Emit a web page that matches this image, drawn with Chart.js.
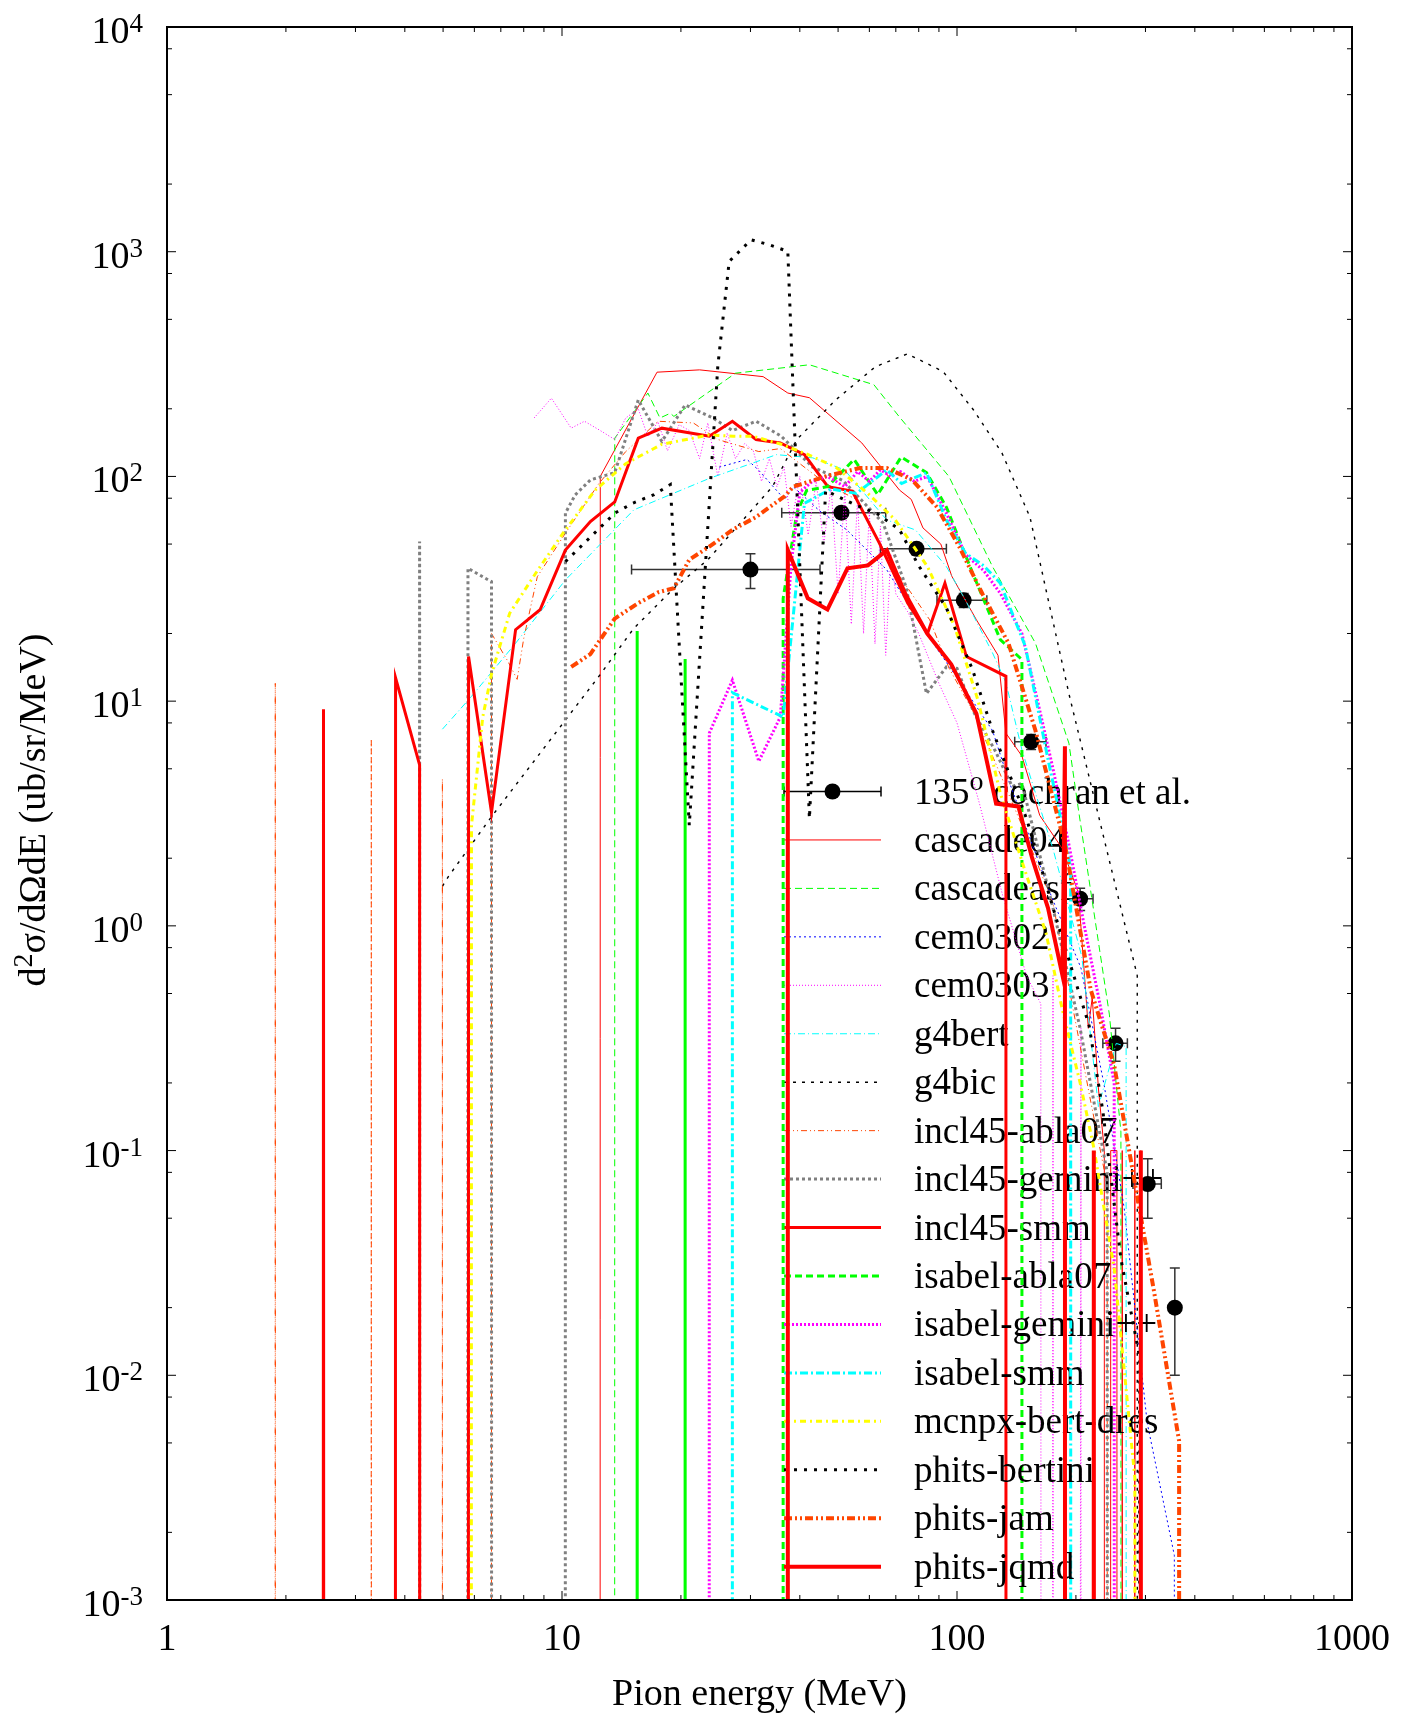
<!DOCTYPE html>
<html>
<head>
<meta charset="utf-8">
<title>Pion energy spectrum at 135 degrees</title>
<script src="https://cdn.jsdelivr.net/npm/chart.js@4.4.1/dist/chart.umd.min.js"></script>
<style>
  html, body { margin: 0; padding: 0; background: #fff; }
  #chart { display: block; }
</style>
</head>
<body>
<canvas id="chart" width="1414" height="1715"></canvas>
<script>
// Measured points, 135 deg (cochran et al.)
const expEnergy = [30, 51, 79, 104, 154, 205, 252, 304, 356];
const expValue = [38.5, 69, 47.6, 28.1, 6.6, 1.32, 0.30, 0.071, 0.020];
const expEnergyErr = [15, 15, 15, 15, 14, 16, 18, 25, 0];
const expValueErr = [6.8, 4, 3, 2, 0.5, 0.15, 0.05, 0.021, 0.01];

// Model curves: energy (MeV) and d2sigma/dOmega dE. A 0 is an empty bin,
// which on the log axis falls straight down to the bottom.
const cascade04E = [12.3, 12.5, 17.4, 22.3, 32.3, 37.3, 42.3, 57.4, 71.5, 76.6, 82, 91, 97, 112, 127, 133, 146, 162, 185, 203, 215, 220, 228, 236, 240, 245, 254, 258, 262, 266, 282, 287, 292, 296];
const cascade04V = [0, 100, 291, 298, 278, 235, 224, 141, 87, 79, 59, 50, 36, 23, 16, 7.2, 5.7, 3.1, 2.2, 1.4, 0.35, 0.48, 0.19, 0.1, 0, 0.1, 0.1, 0, 0.1, 0, 0.1, 0, 0.1, 0];

const cascadeasfE = [13.5, 13.6, 16.5, 17.7, 18.8, 19.2, 27.5, 42.3, 61.6, 71.3, 95.4, 123, 158, 192, 203, 243, 260, 262];
const cascadeasfV = [0, 148, 235, 182, 191, 185, 288, 314, 256, 185, 100, 39.7, 18.1, 6.5, 3.28, 0.405, 0.121, 0];

const cem0302E = [25, 29.4, 31.4, 36.6, 38.5, 45, 52.5, 66.4, 83.7, 101, 123, 135, 173.6, 206, 236, 265, 303, 355, 360];
const cem0302V = [110, 119, 107, 79, 90, 70, 58, 38.4, 20, 12.4, 7.4, 4.46, 1.345, 0.649, 0.194, 0.0555, 0.00615, 0.00158, 0];

const cem0303E = [8.5, 9.4, 10.55, 11.4, 12.5, 13.6, 14.5, 15.6, 16.5, 17.5, 18.5, 19.8, 21, 22.3, 23.4, 24.8, 26.2, 27.5, 29, 30.5, 32, 33.5, 35, 36.5, 38, 40, 42, 44, 46, 48, 50, 52, 54, 56, 58, 60, 62, 64, 66, 68, 70, 75, 80, 90, 100, 114, 130, 150, 163, 168, 175, 180, 206, 210];
const cem0303V = [182, 223, 164, 176, 160, 146, 182, 200, 150, 175, 130, 170, 160, 120, 173, 100, 156, 120, 140, 130, 95, 120, 90, 110, 60, 100, 55, 95, 50, 90, 30, 85, 22, 80, 20, 70, 18, 60, 16, 45, 30, 25, 20, 12, 8, 3.5, 1.4, 0.6, 0.45, 0, 0.6, 0, 0.35, 0];

const g4bertE = [4.98, 5.9, 7.63, 10.2, 15.2, 23.6, 34.9, 43.1, 51.9, 66.4, 78.5, 94, 105, 123, 133, 146, 175, 207, 228, 253, 268, 270];
const g4bertV = [7.5, 10.5, 18.1, 34.6, 71, 98, 125, 121, 107, 64, 57.8, 39.7, 28.2, 16.4, 12.1, 6.07, 2.2, 0.73, 0.157, 0.3, 0.29, 0];

const g4bicE = [4.98, 5.16, 6.63, 12.4, 15.2, 19.2, 23.4, 34.1, 39.3, 49.3, 62.2, 74.9, 92.2, 110, 130, 153, 192, 228, 286, 287];
const g4bicV = [1.5, 1.66, 3.06, 12.9, 21.1, 31.8, 42.6, 90, 146, 219, 308, 351, 293, 198, 127, 66, 10.8, 3.1, 0.6, 0];

const inclAblaE = [1.85, 1.88, 1.91, 3.25, 3.29, 3.33, 4.93, 4.98, 5.03, 6.6, 6.63, 7.3, 7.7, 8.0, 8.66, 10.2, 12.4, 14.5, 17.5, 21.5, 24.8, 31.5, 35.7, 46.5, 55.6, 68.6, 85.3, 95.5, 109.5, 123, 150, 175, 216, 240, 245];
const inclAblaV = [0, 12, 0, 0, 6.8, 0, 0, 4.5, 0, 0, 20, 15, 12.5, 19, 35.8, 55.9, 93, 129, 176, 173, 146, 129, 133, 93, 79, 40, 23, 14, 9.1, 5.7, 2.5, 1.26, 0.18, 0.07, 0];

const inclGeminiE = [4.3, 4.36, 4.42, 5.7, 5.78, 6.63, 6.7, 10.1, 10.2, 10.8, 11.8, 13.6, 15.6, 17.9, 20.5, 24.1, 27, 31, 35.9, 43.1, 51.4, 65, 74.4, 83.7, 94, 100, 110, 125, 138, 146, 175, 205, 240, 250];
const inclGeminiV = [0, 51.3, 0, 0, 39, 34, 0, 0, 68.6, 82.8, 96.5, 104, 219, 143, 208, 182, 160, 176, 151, 110, 96, 62, 32, 10.8, 14.2, 14, 9, 6, 4.17, 4.3, 1.2, 0.35, 0.08, 0];

const inclSmmE = [2.42, 2.49, 2.56, 3.72, 3.79, 4.36, 4.42, 5.7, 5.8, 6.63, 7.63, 8.8, 10.2, 11.8, 13.6, 15.6, 17.9, 23.6, 27, 31, 35.7, 41.1, 47.1, 54.3, 63.6, 75, 84.2, 93.2, 105.6, 133, 134];
const inclSmmV = [0, 9.2, 0, 0, 12.7, 5.2, 0, 0, 15.8, 3.2, 20.8, 25.5, 47, 63, 77, 148, 164, 151, 176, 146, 141, 125, 90, 86, 50.5, 27.3, 20, 33.5, 15.8, 12.9, 0];

const isabelAblaE = [15.4, 15.5, 15.6, 20.4, 20.5, 20.6, 36.2, 36.3, 39.3, 41.6, 47, 54.9, 63, 72.2, 83.7, 94, 109.5, 128.7, 146, 146.5];
const isabelAblaV = [0, 20.5, 0, 0, 15.4, 0, 0, 28.7, 68.6, 86.5, 90, 119, 83, 122, 104, 73, 37.2, 18.8, 15.3, 0];

const isabelGeminiE = [23.4, 23.6, 27, 31.5, 35.7, 38, 40, 43, 47, 52, 56, 60, 64, 68, 72, 78, 84, 94, 105, 117, 129, 146, 160, 175, 192, 210, 230, 250, 255];
const isabelGeminiV = [0, 7.2, 12.4, 5.4, 8.5, 40, 85, 95, 100, 90, 105, 95, 107, 100, 105, 95, 100, 68.6, 45, 38, 30, 20, 10, 5, 2.3, 1.0, 0.45, 0.2, 0];

const isabelSmmE = [26.9, 27, 36.3, 41.1, 48, 55.6, 66.4, 72.4, 83.7, 94, 105, 117, 128.7, 149, 170, 190, 194, 195];
const isabelSmmV = [0, 10.9, 8.5, 76, 88, 84, 107, 93, 104, 64, 45.6, 40, 33.5, 17.5, 5.5, 2.2, 1.8, 0];

const mcnpxE = [5.78, 5.9, 6.3, 6.63, 7.37, 8.57, 10.06, 12.1, 14.5, 17.9, 23.6, 27.1, 30.4, 35.9, 42, 49.3, 59.5, 69.8, 84.2, 98.6, 113, 128.7, 148, 168, 185, 205, 222, 250, 282, 288];
const mcnpxV = [0, 2.8, 8.5, 13.2, 24.6, 37, 55.9, 86.5, 114, 139, 153, 151, 151, 139, 125, 110, 84, 64, 39.7, 21.5, 10.1, 3.9, 1.8, 0.93, 0.42, 0.2, 0.103, 0.03, 0.0035, 0];

const bertiniE = [10.2, 13.6, 15.1, 17.1, 18.8, 21, 24.8, 26.5, 30.1, 33.4, 37.3, 42.3, 46.5, 55, 63, 71.5, 80, 94, 109.5, 123, 150, 178, 216, 234, 260, 290, 292];
const bertiniV = [41.8, 68.6, 76, 83, 92, 2.8, 310, 905, 1130, 1075, 1003, 3.0, 86.5, 75, 68, 58, 40, 26, 13.8, 7.4, 3, 1.09, 0.36, 0.15, 0.033, 0.012, 0];

const jamE = [10.55, 11.8, 13.6, 15.6, 17.5, 19.2, 21, 23.6, 27, 31, 36.6, 38.5, 46.5, 56.7, 66.4, 77, 89, 101.3, 116, 135, 158, 188, 218, 250, 280, 315, 365, 370];
const jamV = [14.2, 16.2, 23.3, 27.3, 30.5, 31.8, 42.6, 48.7, 57.8, 66, 81.6, 90, 100, 109, 109, 96.5, 73, 48.7, 30, 18.1, 7.4, 2.26, 0.52, 0.24, 0.077, 0.0239, 0.0051, 0];

const jqmdE = [37.2, 37.3, 41.9, 47, 52.8, 59.5, 66.4, 74, 84, 96.7, 112, 125.6, 143, 155, 170, 185, 187.6, 190, 218, 222, 226, 288, 292, 296];
const jqmdV = [0, 47, 28.7, 25.6, 39, 40.2, 47, 30, 20, 14.6, 8.8, 3.5, 3.4, 2.0, 1.2, 0.6, 6.3, 0, 0, 0.1, 0, 0, 0.1, 0];

// tick labels
const xTickLabels = ['1', '10', '100', '1000'];
const yTickExponents = ['-3', '-2', '-1', '0', '1', '2', '3', '4'];

// series list in plot order, with gnuplot-like line styles
const series = [
    { label: 'cascade04', e: cascade04E, v: cascade04V, color: '#ff0000', width: 1, dash: [] },
    { label: 'cascadeasf', e: cascadeasfE, v: cascadeasfV, color: '#00ff00', width: 1, dash: [7, 4] },
    { label: 'cem0302', e: cem0302E, v: cem0302V, color: '#0000ff', width: 1, dash: [2, 3] },
    { label: 'cem0303', e: cem0303E, v: cem0303V, color: '#ff00ff', width: 1, dash: [1, 2] },
    { label: 'g4bert', e: g4bertE, v: g4bertV, color: '#00ffff', width: 1, dash: [7, 3, 1, 3] },
    { label: 'g4bic', e: g4bicE, v: g4bicV, color: '#000000', width: 1.4, dash: [3, 6] },
    { label: 'incl45-abla07', e: inclAblaE, v: inclAblaV, color: '#ff4500', width: 1, dash: [6, 3, 1, 3, 1, 3] },
    { label: 'incl45-gemini++', e: inclGeminiE, v: inclGeminiV, color: '#808080', width: 3, dash: [3, 3] },
    { label: 'incl45-smm', e: inclSmmE, v: inclSmmV, color: '#ff0000', width: 3, dash: [] },
    { label: 'isabel-abla07', e: isabelAblaE, v: isabelAblaV, color: '#00ff00', width: 3, dash: [7, 4], solidSpikes: true },
    { label: 'isabel-gemini++', e: isabelGeminiE, v: isabelGeminiV, color: '#ff00ff', width: 3, dash: [2, 2] },
    { label: 'isabel-smm', e: isabelSmmE, v: isabelSmmV, color: '#00ffff', width: 3, dash: [8, 3, 2, 3] },
    { label: 'mcnpx-bert-dres', e: mcnpxE, v: mcnpxV, color: '#ffff00', width: 3, dash: [6, 4, 2, 4] },
    { label: 'phits-bertini', e: bertiniE, v: bertiniV, color: '#000000', width: 3, dash: [3, 7] },
    { label: 'phits-jam', e: jamE, v: jamV, color: '#ff4500', width: 4, dash: [8, 3, 2, 3, 2, 3] },
    { label: 'phits-jqmd', e: jqmdE, v: jqmdV, color: '#ff0000', width: 4, dash: [] }
];

const FONT = "'Liberation Serif', 'Times New Roman', serif";
const FLOOR = 1e-100; // stand-in for an empty bin on the log axis

// a non-empty bin with empty bins on both sides
function isSpike(v, i) {
    return v[i] > 0 && v[i - 1] === 0 && v[i + 1] === 0;
}

const total = series.length + 1;
const datasets = [{
    label: '135° cochran et al.',
    data: expEnergy.map((e, i) => ({ x: e, y: expValue[i] })),
    showLine: false,
    pointRadius: 8,
    pointHoverRadius: 8,
    pointBackgroundColor: '#000',
    pointBorderColor: '#000',
    pointBorderWidth: 0,
    order: total
}];
series.forEach((s, k) => {
    const ds = {
        label: s.label,
        data: s.e.map((e, i) => ({ x: e, y: s.v[i] > 0 ? s.v[i] : FLOOR })),
        borderColor: s.color,
        borderWidth: s.width,
        borderDash: s.dash,
        pointRadius: 0,
        fill: false,
        tension: 0,
        order: total - 1 - k
    };
    if (s.solidSpikes) {
        ds.segment = {
            borderDash: c => (isSpike(s.v, c.p0DataIndex) || isSpike(s.v, c.p1DataIndex)) ? [] : undefined
        };
    }
    datasets.push(ds);
});

// key entries, drawn just before each curve as gnuplot does
function drawKeyEntry(chart, index) {
    const ctx = chart.ctx;
    const y = 791.5 + index * 48.45;
    const x0 = 784, x1 = 881, textX = 914;
    ctx.save();
    ctx.setLineDash([]);
    if (index === 0) {
        ctx.strokeStyle = '#000';
        ctx.lineWidth = 1.5;
        ctx.beginPath();
        ctx.moveTo(x0, y); ctx.lineTo(x1, y);
        ctx.moveTo(x0, y - 5); ctx.lineTo(x0, y + 5);
        ctx.moveTo(x1, y - 5); ctx.lineTo(x1, y + 5);
        ctx.stroke();
        ctx.fillStyle = '#000';
        ctx.beginPath();
        ctx.arc((x0 + x1) / 2, y, 8, 0, Math.PI * 2);
        ctx.fill();
        ctx.font = `37px ${FONT}`;
        ctx.textBaseline = 'alphabetic';
        ctx.textAlign = 'left';
        ctx.fillText('135', textX, y + 12);
        let x = textX + ctx.measureText('135').width;
        ctx.font = `28px ${FONT}`;
        ctx.fillText('o', x, y - 2);
        x += ctx.measureText('o').width;
        ctx.font = `37px ${FONT}`;
        ctx.fillText(' cochran et al.', x, y + 12);
    } else {
        const ds = chart.data.datasets[index];
        ctx.strokeStyle = ds.borderColor;
        ctx.lineWidth = ds.borderWidth;
        ctx.setLineDash(ds.borderDash);
        ctx.beginPath();
        ctx.moveTo(x0, y); ctx.lineTo(x1, y);
        ctx.stroke();
        ctx.setLineDash([]);
        ctx.fillStyle = '#000';
        ctx.font = `37px ${FONT}`;
        ctx.textBaseline = 'alphabetic';
        ctx.textAlign = 'left';
        ctx.fillText(ds.label, textX, y + 12);
    }
    ctx.restore();
}

function drawErrorBars(chart) {
    const ctx = chart.ctx;
    const xs = chart.scales.x, ys = chart.scales.y;
    ctx.save();
    ctx.strokeStyle = '#333';
    ctx.lineWidth = 1.5;
    ctx.setLineDash([]);
    ctx.beginPath();
    expEnergy.forEach((e, i) => {
        const px = xs.getPixelForValue(e);
        const py = ys.getPixelForValue(expValue[i]);
        if (expEnergyErr[i] > 0) {
            const xl = xs.getPixelForValue(e - expEnergyErr[i]);
            const xr = xs.getPixelForValue(e + expEnergyErr[i]);
            ctx.moveTo(xl, py); ctx.lineTo(xr, py);
            ctx.moveTo(xl, py - 5); ctx.lineTo(xl, py + 5);
            ctx.moveTo(xr, py - 5); ctx.lineTo(xr, py + 5);
        }
        if (expValueErr[i] > 0) {
            const yt = ys.getPixelForValue(expValue[i] + expValueErr[i]);
            const yb = ys.getPixelForValue(expValue[i] - expValueErr[i]);
            ctx.moveTo(px, yt); ctx.lineTo(px, yb);
            ctx.moveTo(px - 5, yt); ctx.lineTo(px + 5, yt);
            ctx.moveTo(px - 5, yb); ctx.lineTo(px + 5, yb);
        }
    });
    ctx.stroke();
    ctx.restore();
}

// border, inward ticks, tick labels and axis titles
function drawFrame(chart) {
    const ctx = chart.ctx;
    const { left, right, top, bottom } = chart.chartArea;
    const xs = chart.scales.x, ys = chart.scales.y;
    ctx.save();
    ctx.setLineDash([]);
    ctx.strokeStyle = '#000';
    ctx.lineWidth = 1;
    ctx.beginPath();
    for (let p = 0; p < 3; p++) {
        for (let k = 1; k <= 9; k++) {
            const x = xs.getPixelForValue(k * Math.pow(10, p));
            const len = k === 1 ? 9 : 5;
            ctx.moveTo(x, bottom); ctx.lineTo(x, bottom - len);
            ctx.moveTo(x, top); ctx.lineTo(x, top + len);
        }
    }
    for (let p = -3; p < 4; p++) {
        [1, 2, 5, 8].forEach(k => {
            const y = ys.getPixelForValue(k * Math.pow(10, p));
            const len = k === 1 ? 9 : 5;
            ctx.moveTo(left, y); ctx.lineTo(left + len, y);
            ctx.moveTo(right, y); ctx.lineTo(right - len, y);
        });
    }
    ctx.stroke();
    ctx.lineWidth = 2;
    ctx.strokeRect(left, top, right - left, bottom - top);

    ctx.fillStyle = '#000';
    ctx.textBaseline = 'alphabetic';
    // x tick labels
    ctx.font = `38px ${FONT}`;
    ctx.textAlign = 'center';
    xTickLabels.forEach(t => {
        ctx.fillText(t, xs.getPixelForValue(Number(t)), 1650);
    });
    // y tick labels: 10 with a raised exponent
    const labelRight = 143;
    yTickExponents.forEach(ex => {
        const y = ys.getPixelForValue(Math.pow(10, Number(ex)));
        ctx.font = `27px ${FONT}`;
        const supW = ctx.measureText(ex).width;
        ctx.textAlign = 'left';
        ctx.fillText(ex, labelRight - supW, y + 5);
        ctx.font = `38px ${FONT}`;
        ctx.textAlign = 'right';
        ctx.fillText('10', labelRight - supW, y + 16);
    });
    // x title
    ctx.font = `38px ${FONT}`;
    ctx.textAlign = 'center';
    ctx.fillText('Pion energy (MeV)', (left + right) / 2, 1705);
    // y title, rotated
    ctx.save();
    ctx.translate(45, 810);
    ctx.rotate(-Math.PI / 2);
    ctx.textAlign = 'left';
    ctx.font = `38px ${FONT}`;
    const partA = 'd', partC = 'σ/dΩdE (ub/sr/MeV)';
    const wA = ctx.measureText(partA).width, wC = ctx.measureText(partC).width;
    ctx.font = `28px ${FONT}`;
    const wB = ctx.measureText('2').width;
    let x = -(wA + wB + wC) / 2;
    ctx.font = `38px ${FONT}`;
    ctx.fillText(partA, x, 0);
    x += wA;
    ctx.font = `28px ${FONT}`;
    ctx.fillText('2', x, -13);
    x += wB;
    ctx.font = `38px ${FONT}`;
    ctx.fillText(partC, x, 0);
    ctx.restore();
    ctx.restore();
}

const gnuplotLook = {
    id: 'gnuplotLook',
    beforeDatasetDraw(chart, args) {
        drawKeyEntry(chart, args.index);
        if (args.index === 0) drawErrorBars(chart);
    },
    afterDraw(chart) {
        drawFrame(chart);
    }
};

new Chart(document.getElementById('chart').getContext('2d'), {
    type: 'line',
    data: { datasets: datasets },
    options: {
        responsive: false,
        animation: false,
        devicePixelRatio: 1,
        layout: { padding: { left: 0, right: 62, top: 27, bottom: 0 } },
        plugins: {
            legend: { display: false },
            tooltip: { enabled: false }
        },
        events: [],
        scales: {
            x: {
                type: 'logarithmic',
                min: 1,
                max: 1000,
                ticks: { display: false },
                grid: { display: false },
                border: { display: false },
                afterFit: scale => { scale.height = 115; }
            },
            y: {
                type: 'logarithmic',
                min: 1e-3,
                max: 1e4,
                ticks: { display: false },
                grid: { display: false },
                border: { display: false },
                afterFit: scale => { scale.width = 167; }
            }
        }
    },
    plugins: [gnuplotLook]
});
</script>
</body>
</html>
